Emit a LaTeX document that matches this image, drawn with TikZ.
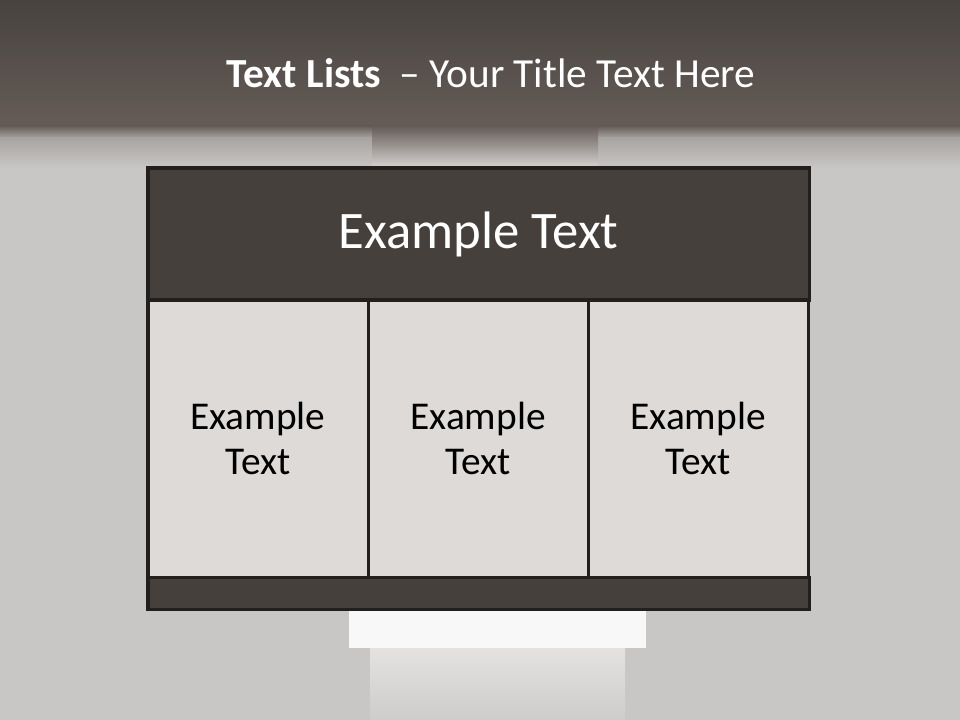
\documentclass[tikz,border=0pt]{standalone}
\usepackage{fontspec}
\setmainfont{Carlito}
\usetikzlibrary{positioning}
\definecolor{cbandtop}{HTML}{48433F}
\definecolor{cbandbot}{HTML}{655C57}
\definecolor{cfade}{HTML}{A8A4A1}
\definecolor{cwall}{HTML}{C9C7C6}
\definecolor{cdoor}{HTML}{D6D4D2}
\definecolor{clight}{HTML}{F8F8F8}
\definecolor{chead}{HTML}{46403C}
\definecolor{cedge}{HTML}{231F1C}
\definecolor{ccell}{HTML}{DDDAD7}

\begin{document}
\begin{tikzpicture}[
  x=0.025cm, y=-0.025cm,
  every node/.style={inner sep=0pt, outer sep=0pt},
  bar/.style={draw=cedge, line width=2.2pt, fill=chead, minimum width=16.525cm,
              text=white},
  cell/.style={draw=cedge, line width=2.2pt, fill=ccell, minimum width=5.5cm,
               minimum height=6.925cm, align=center, text=black,
               font=\fontsize{28}{32.5}\selectfont},
  ]
\useasboundingbox (0,0) rectangle (960,720);

% backdrop
\fill[cwall] (0,0) rectangle (960,720);
\shade[top color=cbandtop, bottom color=cbandbot] (0,0) rectangle (960,126);
\shade[top color=cbandbot, bottom color=cfade] (0,126) rectangle (960,138);
\shade[top color=cfade, bottom color=cwall] (0,138) rectangle (960,168);
\shade[top color=cbandbot, bottom color=cdoor] (372,126) rectangle (598,168);
\fill[clight] (349,609) rectangle (646,648);
\shade[top color=cdoor!60!clight, bottom color=cwall!60!cdoor] (370,648) rectangle (625,720);

% title
\node[anchor=base, text=white, font=\fontsize{29.4}{35}\selectfont] (title) at (491,88)
  {\textbf{Text Lists}\hspace{0.45em}– Your Title Text Here};

% table
\node[bar, minimum height=3.3cm, anchor=north west,
      font=\fontsize{37.5}{44}\selectfont] (head) at (148,168) {Example Text};
\node[cell, anchor=north west] (left) at (head.south west) {Example\\Text};
\node[cell, right=0pt of left] (mid) {Example\\Text};
\node[cell, right=0pt of mid] (right) {Example\\Text};
\node[bar, minimum height=0.8cm, anchor=north west] (foot) at (left.south west) {};
\end{tikzpicture}
\end{document}
